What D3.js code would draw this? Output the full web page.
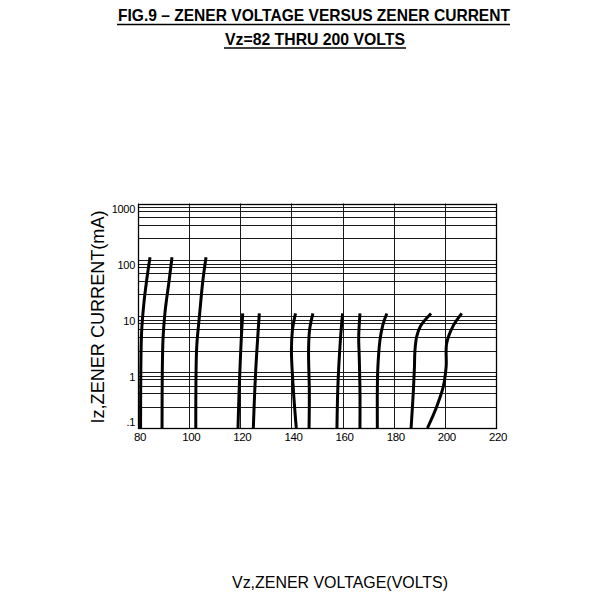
<!DOCTYPE html>
<html>
<head>
<meta charset="utf-8">
<script src="https://cdn.jsdelivr.net/npm/d3@7"></script>
<style>
  body { margin: 0; background: #fff; }
  svg { display: block; }
</style>
</head>
<body>
<div class="chart"></div>
<script>
// data ======================================================= //

var xTicks = [80, 100, 120, 140, 160, 180, 200, 220];
var yTicks = [0.1, 1, 10, 100, 1000];
var yTickLabels = [".1", "1", "10", "100", "1000"];
// minor grid lines inside each decade (multiples of the decade start)
var minorSteps = [8.5, 7.5, 5.7, 4.2, 2.4];

// each curve: [voltage, current mA]
var curve82 = [[81.0, 0.1], [81.1, 1], [81.4, 5], [82.2, 15], [83.3, 40], [84.7, 110]];
var curve91 = [[89.4, 0.1], [89.5, 1], [89.8, 4], [90.6, 12], [92.1, 40], [93.3, 110]];
var curve100 = [[102.6, 0.1], [102.7, 1], [103.0, 3], [104.2, 12], [105.3, 40], [106.6, 110]];
var curve120 = [[119.1, 0.1], [119.5, 0.4], [119.9, 1.2], [120.4, 4], [120.95, 11]];
var curve130 = [[125.1, 0.1], [125.6, 0.4], [126.1, 1.2], [126.8, 4], [127.45, 11]];
var curve140 = [[141.9, 0.1], [140.8, 0.45], [140.0, 2.4], [140.4, 5.6], [141.6, 11]];
var curve150 = [[146.9, 0.1], [147.0, 0.45], [146.7, 2.4], [147.1, 5.6], [148.4, 11]];
var curve160 = [[157.8, 0.1], [158.1, 0.45], [158.5, 1.2], [159.2, 4], [160.0, 11]];
var curve170 = [[166.8, 0.1], [166.8, 0.45], [166.5, 2], [166.3, 4], [166.8, 11]];
var curve180 = [[173.6, 0.1], [173.6, 0.5], [173.8, 1.2], [174.6, 3.6], [175.8, 7], [177.3, 11]];
var curve190 = [[186.8, 0.1], [187.7, 0.47], [188.1, 1.2], [188.3, 2.4], [189.0, 4.3], [190.5, 6.6], [194.6, 11]];
var curve200 = [[193.2, 0.1], [196.8, 0.24], [199.4, 0.55], [200.5, 1.24], [200.7, 3.2], [203.1, 6.4], [206.6, 11]];

var curves = [curve82, curve91, curve100, curve120, curve130, curve140,
  curve150, curve160, curve170, curve180, curve190, curve200];

var title1 = "FIG.9 \u2013 ZENER VOLTAGE VERSUS ZENER CURRENT";
var title2 = "Vz=82 THRU 200 VOLTS";
var xTitle = "Vz,ZENER VOLTAGE(VOLTS)";
var yTitle = "Iz,ZENER CURRENT(mA)";

// drawing ==================================================== //

function drawChart() {
  var svg = d3
    .select(".chart")
    .append("svg")
    .attr("width", 600)
    .attr("height", 600)
    .style("font-family", "'Liberation Sans', Arial, sans-serif");

  var plot = { left: 138, right: 496, top: 203.5, bottom: 428 };

  var x = d3.scaleLinear().domain([80, 220]).range([plot.left, plot.right]);
  var y = d3.scaleLog().domain([0.1, 1000]).range([plot.bottom, plot.top]);

  // titles
  svg
    .append("text")
    .attr("x", 118)
    .attr("y", 20.5)
    .attr("font-size", 16.5)
    .attr("font-weight", "bold")
    .attr("textLength", 392)
    .attr("lengthAdjust", "spacingAndGlyphs")
    .text(title1);
  svg
    .append("line")
    .attr("x1", 117).attr("x2", 510)
    .attr("y1", 24.5).attr("y2", 24.5)
    .attr("stroke", "#000").attr("stroke-width", 1.3);

  svg
    .append("text")
    .attr("x", 225)
    .attr("y", 44.5)
    .attr("font-size", 16.5)
    .attr("font-weight", "bold")
    .attr("textLength", 180)
    .attr("lengthAdjust", "spacingAndGlyphs")
    .text(title2);
  svg
    .append("line")
    .attr("x1", 224).attr("x2", 406)
    .attr("y1", 48).attr("y2", 48)
    .attr("stroke", "#000").attr("stroke-width", 1.3);

  // grid
  var grid = svg.append("g").attr("id", "grid");

  var hLines = [];
  yTicks.forEach(function (t, i) {
    hLines.push(t);
    if (i > 0) {
      minorSteps.forEach(function (m) {
        hLines.push(yTicks[i - 1] * m);
      });
    }
  });

  grid
    .selectAll("line.h")
    .data(hLines)
    .enter()
    .append("line")
    .attr("class", "h")
    .attr("x1", plot.left)
    .attr("x2", plot.right)
    .attr("y1", function (d) { return Math.round(y(d)) + 0.5; })
    .attr("y2", function (d) { return Math.round(y(d)) + 0.5; })
    .attr("stroke", "#1a1a1a")
    .attr("stroke-width", 1);

  grid
    .selectAll("line.v")
    .data(xTicks)
    .enter()
    .append("line")
    .attr("class", "v")
    .attr("x1", function (d) { return Math.round(x(d)) + 0.5; })
    .attr("x2", function (d) { return Math.round(x(d)) + 0.5; })
    .attr("y1", plot.top)
    .attr("y2", plot.bottom)
    .attr("stroke", "#1a1a1a")
    .attr("stroke-width", 1);

  svg
    .append("rect")
    .attr("x", plot.left + 0.5)
    .attr("y", Math.round(plot.top) + 0.5)
    .attr("width", plot.right - plot.left)
    .attr("height", Math.round(plot.bottom) - Math.round(plot.top))
    .attr("fill", "none")
    .attr("stroke", "#000")
    .attr("stroke-width", 1.3);

  // tick labels
  svg
    .append("g")
    .selectAll("text")
    .data(xTicks)
    .enter()
    .append("text")
    .attr("x", function (d) { return x(d) + 2; })
    .attr("y", plot.bottom + 13)
    .attr("text-anchor", "middle")
    .attr("font-size", 11.5)
    .attr("letter-spacing", -0.4)
    .text(function (d) { return d; });

  svg
    .append("g")
    .selectAll("text")
    .data(yTicks)
    .enter()
    .append("text")
    .attr("x", plot.left - 3)
    .attr("y", function (d) { return y(d) + (d === 0.1 ? -6 : 5); })
    .attr("dominant-baseline", "central")
    .attr("text-anchor", "end")
    .attr("font-size", 11)
    .attr("letter-spacing", -0.3)
    .text(function (d, i) { return yTickLabels[i]; });

  // axis titles
  svg
    .append("text")
    .attr("transform", "translate(104,317) rotate(-90)")
    .attr("text-anchor", "middle")
    .attr("font-size", 18)
    .attr("textLength", 213)
    .attr("lengthAdjust", "spacingAndGlyphs")
    .text(yTitle);

  svg
    .append("text")
    .attr("x", 340)
    .attr("y", 588)
    .attr("text-anchor", "middle")
    .attr("font-size", 16)
    .attr("textLength", 216)
    .attr("lengthAdjust", "spacingAndGlyphs")
    .text(xTitle);

  // curves
  var line = d3
    .line()
    .x(function (d) { return x(d[0]); })
    .y(function (d) { return y(d[1]); })
    .curve(d3.curveCatmullRom.alpha(0.5));

  svg
    .append("g")
    .attr("id", "curves")
    .selectAll("path")
    .data(curves)
    .enter()
    .append("path")
    .attr("d", line)
    .attr("fill", "none")
    .attr("stroke", "#000")
    .attr("stroke-width", 3)
    .attr("stroke-linecap", "butt");
}

drawChart();
</script>
</body>
</html>
